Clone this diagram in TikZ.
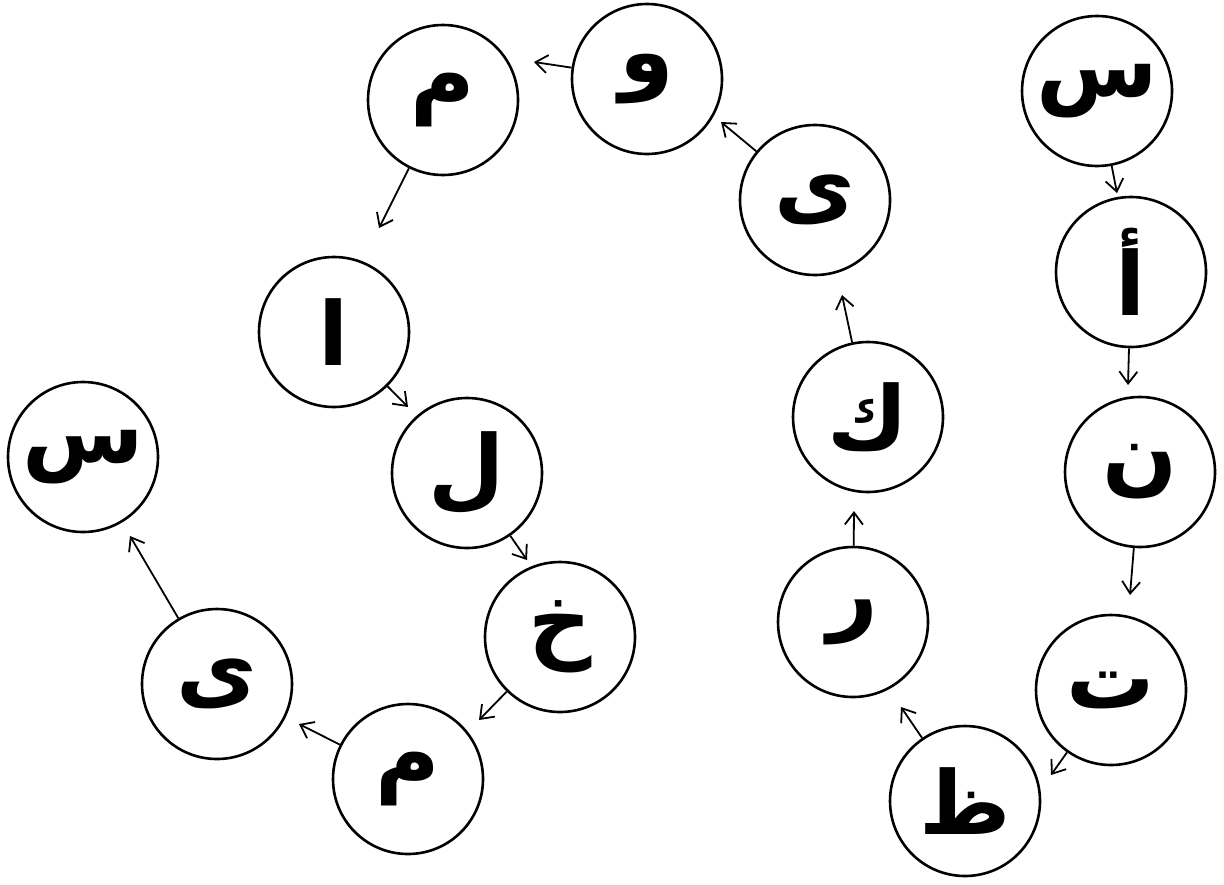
\documentclass[tikz,border=0pt]{standalone}
\usepackage{fontspec}
\usetikzlibrary{arrows.meta}
\TeXXeTstate=1
\newfontfamily\arabicfont[Script=Arabic]{DejaVu Sans}
\newcommand{\ar}[1]{{\arabicfont\bfseries\fontsize{44}{48}\selectfont\beginR #1\endR}}
\tikzset{
  circ/.style={circle, draw=black, line width=1.3pt, minimum size=75pt, inner sep=0pt, text=black},
  arr/.style={draw=black, line width=0.9pt, -{Straight Barb[length=6pt,width=9pt,line width=0.9pt]}}
}
\begin{document}
\begin{tikzpicture}[x=0.5pt,y=-0.5pt]
\useasboundingbox (0,0) rectangle (1224,884);
% circles
\node[circ] (s1) at (1097,91)  {\ar{س}};
\node[circ] (hz) at (1131,272) {\ar{أ}};
\node[circ] (nn) at (1140,472) {\ar{ن}};
\node[circ] (tt) at (1111,690) {\ar{ت}};
\node[circ] (zz) at (965,801)  {\ar{ظ}};
\node[circ] (rr) at (853,622)  {\ar{ر}};
\node[circ] (kk) at (868,417)  {\ar{ك}};
\node[circ] (y1) at (815,200)  {\ar{ى}};
\node[circ] (ww) at (647,79)   {\ar{و}};
\node[circ] (m1) at (443,100)  {\ar{م}};
\node[circ] (aa) at (334,332)  {\ar{ا}};
\node[circ] (ll) at (467,473)  {\ar{ل}};
\node[circ] (kh) at (560,637)  {\ar{خ}};
\node[circ] (m2) at (408,779)  {\ar{م}};
\node[circ] (y2) at (217,684)  {\ar{ى}};
\node[circ] (s2) at (83,457)   {\ar{س}};
% arrow tips
\coordinate (p1) at (1117,193);
\coordinate (p2) at (1128,385);
\coordinate (p3) at (1130,595);
\coordinate (p4) at (1051,775);
\coordinate (p5) at (901,707);
\coordinate (p6) at (854,511);
\coordinate (p7) at (842,295);
\coordinate (p8) at (721,122);
\coordinate (p9) at (534,62);
\coordinate (p10) at (379,228);
\coordinate (p11) at (408,407);
\coordinate (p12) at (527,560);
\coordinate (p13) at (479,720);
\coordinate (p14) at (299,724);
\coordinate (p15) at (130,536);
% connectors
\draw[arr] (s1) -- (p1);
\draw[arr] (hz) -- (p2);
\draw[arr] (nn) -- (p3);
\draw[arr] (tt) -- (p4);
\draw[arr] (zz) -- (p5);
\draw[arr] (rr) -- (p6);
\draw[arr] (kk) -- (p7);
\draw[arr] (y1) -- (p8);
\draw[arr] (ww) -- (p9);
\draw[arr] (m1) -- (p10);
\draw[arr] (aa) -- (p11);
\draw[arr] (ll) -- (p12);
\draw[arr] (kh) -- (p13);
\draw[arr] (m2) -- (p14);
\draw[arr] (y2) -- (p15);
\end{tikzpicture}
\end{document}
